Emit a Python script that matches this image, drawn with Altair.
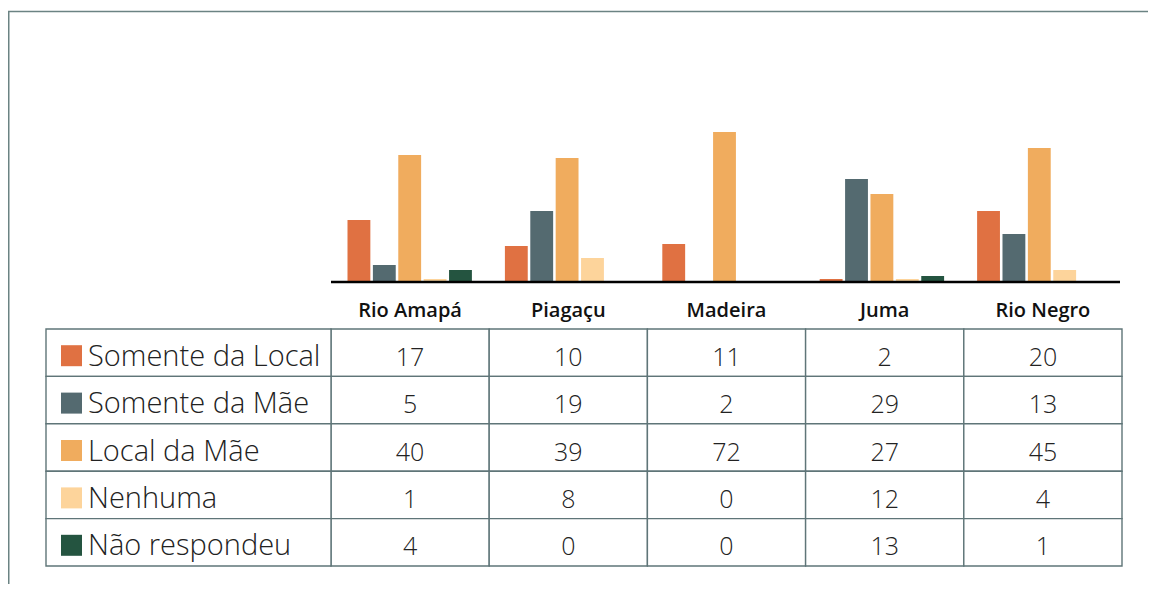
import altair as alt
import pandas as pd

areas = ["Rio Amapá", "Piagaçu", "Madeira", "Juma", "Rio Negro"]
series = ["Somente da Local", "Somente da Mãe", "Local da Mãe", "Nenhuma", "Não respondeu"]
colors = ["#E07142", "#546A70", "#F0AC5E", "#FDD49B", "#245440"]

# values printed in the table (same order as areas)
somente_local = [17, 10, 11, 2, 20]
somente_mae = [5, 19, 2, 29, 13]
local_mae = [40, 39, 72, 27, 45]
nenhuma = [1, 8, 0, 12, 4]
nao_respondeu = [4, 0, 0, 13, 1]

# bar heights as drawn in the picture (same order as areas)
bar_somente_local = [62, 36, 38, 3, 71]
bar_somente_mae = [17, 71, 0, 103, 48]
bar_local_mae = [127, 124, 150, 88, 134]
bar_nenhuma = [3, 24, 0, 3, 12]
bar_nao_respondeu = [12, 0, 0, 6, 0]

table_vals = [somente_local, somente_mae, local_mae, nenhuma, nao_respondeu]
bar_vals = [bar_somente_local, bar_somente_mae, bar_local_mae, bar_nenhuma, bar_nao_respondeu]

rows = []
for s, tv, bv in zip(series, table_vals, bar_vals):
    for a, t, b in zip(areas, tv, bv):
        rows.append({"area": a, "series": s, "value": t, "bar": b})
df = pd.DataFrame(rows)
df_series = pd.DataFrame({"series": series})
df_areas = pd.DataFrame({"area": areas})
one = pd.DataFrame({"k": [0]})

FONT = "Open Sans"
GRID = "#5f7578"
W, H = 1140, 576

table_x = alt.Scale(domain=areas, range=[323, 1114], paddingInner=0, paddingOuter=0)
bar_x = alt.Scale(domain=areas, range=[323, 1110], paddingInner=0, paddingOuter=0)
row_y = alt.Scale(domain=series, range=[321, 558], paddingInner=0, paddingOuter=0)
bar_y = alt.Scale(domain=[0, 150], range=[274, 124])
col_scale = alt.Scale(domain=series, range=colors)

frame_top = alt.Chart(one).mark_rule(color="#6b8383", strokeWidth=1.5).encode(
    x=alt.value(0), x2=alt.value(W), y=alt.value(3.5))
frame_left = alt.Chart(one).mark_rule(color="#6b8383", strokeWidth=1.5).encode(
    x=alt.value(0.75), y=alt.value(3.5), y2=alt.value(H))

bars = alt.Chart(df).transform_filter("datum.bar > 0").mark_bar().encode(
    x=alt.X("area:N", scale=bar_x, axis=None, sort=areas),
    xOffset=alt.XOffset("series:N", scale=alt.Scale(domain=series, paddingInner=0.1, paddingOuter=0.65)),
    y=alt.Y("bar:Q", scale=bar_y, axis=None),
    color=alt.Color("series:N", scale=col_scale, legend=None),
)

baseline = alt.Chart(one).mark_rule(color="#000000", strokeWidth=2.5).encode(
    x=alt.value(323), x2=alt.value(1112), y=alt.value(274))

headers = alt.Chart(df_areas).mark_text(
    font=FONT, fontSize=20, fontWeight=600, color="#111111", baseline="alphabetic"
).encode(
    x=alt.X("area:N", scale=table_x, axis=None, sort=areas),
    y=alt.value(309),
    text="area:N",
)

cells = alt.Chart(df).mark_rect(fill="white", stroke=GRID, strokeWidth=1.4).encode(
    x=alt.X("area:N", scale=table_x, axis=None, sort=areas),
    y=alt.Y("series:N", scale=row_y, axis=None, sort=series),
)

label_cells = alt.Chart(df_series).mark_rect(fill="white", stroke=GRID, strokeWidth=1.4).encode(
    x=alt.value(38), x2=alt.value(323),
    y=alt.Y("series:N", scale=row_y, axis=None, sort=series),
)

squares = alt.Chart(df_series).mark_square(size=441, opacity=1, yOffset=3).encode(
    x=alt.value(63.5),
    y=alt.Y("series:N", scale=row_y, axis=None, sort=series),
    color=alt.Color("series:N", scale=col_scale, legend=None),
)

labels = alt.Chart(df_series).mark_text(
    font=FONT, fontSize=29, fontWeight=300, color="#222222", align="left",
    baseline="alphabetic", dy=13
).encode(
    x=alt.value(80),
    y=alt.Y("series:N", scale=row_y, axis=None, sort=series),
    text="series:N",
)

numbers = alt.Chart(df).mark_text(
    font=FONT, fontSize=25, fontWeight=300, color="#222222", align="center",
    baseline="alphabetic", dy=13
).encode(
    x=alt.X("area:N", scale=table_x, axis=None, sort=areas),
    y=alt.Y("series:N", scale=row_y, axis=None, sort=series),
    text="value:Q",
)

chart = alt.layer(
    frame_top, frame_left, bars, baseline, headers, cells, label_cells, squares, labels, numbers
).resolve_scale(
    x="independent", y="independent"
).properties(
    width=W, height=H,
    autosize=alt.AutoSizeParams(type="none"),
    padding=0,
).configure_view(stroke=None)

chart.save("out.html", embed_options={"renderer": "svg", "actions": False})
